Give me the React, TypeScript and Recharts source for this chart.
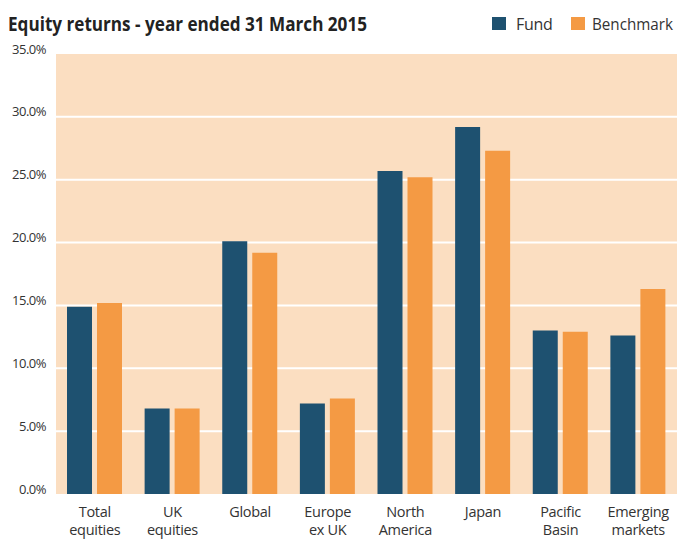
import { BarChart, Bar, XAxis, YAxis, CartesianGrid } from 'recharts';

const categories = [
  'Total\nequities',
  'UK\nequities',
  'Global',
  'Europe\nex UK',
  'North\nAmerica',
  'Japan',
  'Pacific\nBasin',
  'Emerging\nmarkets',
];
const fund = [14.9, 6.8, 20.1, 7.2, 25.7, 29.2, 13.0, 12.6];
const benchmark = [15.2, 6.8, 19.2, 7.6, 25.2, 27.3, 12.9, 16.3];
const yTicks = [0, 5, 10, 15, 20, 25, 30, 35];

const FUND = '#1e5170';
const BENCH = '#f49a44';
const BG = '#fbdec1';
const TEXT = '#333333';
const FONT = '"Open Sans", sans-serif';

const data = categories.map((name, i) => ({ name, fund: fund[i], benchmark: benchmark[i] }));

const XTick = ({ x, y, payload }: any) => {
  const lines = String(payload.value).split('\n');
  return (
    <g>
      {lines.map((l, i) => (
        <text key={i} x={x} y={y + 15 + i * 18} textAnchor="middle" fill={TEXT} fontSize={14.5} fontFamily={FONT} letterSpacing={-0.3}>
          {l}
        </text>
      ))}
    </g>
  );
};

const YTick = ({ y, payload }: any) => (
  <text x={46} y={y - 5} dy="0.35em" textAnchor="end" fill={TEXT} fontSize={13} fontFamily={FONT} letterSpacing={-0.5}>
    {payload.value.toFixed(1)}%
  </text>
);

export default function App() {
  return (
    <div style={{ position: 'relative', width: 677, height: 547, background: '#fff' }}>
      <style>{'html, body { margin: 0; padding: 0; overflow: hidden; }'}</style>
      <BarChart
        width={677}
        height={547}
        data={data}
        margin={{ top: 54, right: 0, left: 0, bottom: 23 }}
        barSize={25}
        barGap={5}
      >
        <CartesianGrid
          vertical={false}
          horizontalValues={[5, 10, 15, 20, 25, 30]}
          stroke="#ffffff"
          strokeWidth={2}
          fill={BG}
          fillOpacity={1}
        />
        <XAxis dataKey="name" height={30} axisLine={false} tickLine={false} interval={0} tick={<XTick />} />
        <YAxis
          width={56}
          domain={[0, 35]}
          ticks={yTicks}
          axisLine={false}
          tickLine={false}
          tick={<YTick />}
        />
        <Bar dataKey="fund" name="Fund" fill={FUND} isAnimationActive={false} />
        <Bar dataKey="benchmark" name="Benchmark" fill={BENCH} isAnimationActive={false} />
      </BarChart>
      <svg style={{ position: 'absolute', left: 0, top: 0, zIndex: 2 }} width={677} height={50}>
        <text x={8} y={31} fontFamily={FONT} fontWeight={700} fontSize={19} fill="#222" textLength={359} lengthAdjust="spacingAndGlyphs">
          Equity returns - year ended 31 March 2015
        </text>
        <rect x={492} y={17} width={14} height={13} fill={FUND} />
        <text x={516} y={30} fontFamily={FONT} fontSize={16} fill={TEXT} letterSpacing={-0.3}>Fund</text>
        <rect x={571} y={17} width={14} height={13} fill={BENCH} />
        <text x={592} y={30} fontFamily={FONT} fontSize={16} fill={TEXT} textLength={81} lengthAdjust="spacingAndGlyphs">Benchmark</text>
      </svg>
    </div>
  );
}
